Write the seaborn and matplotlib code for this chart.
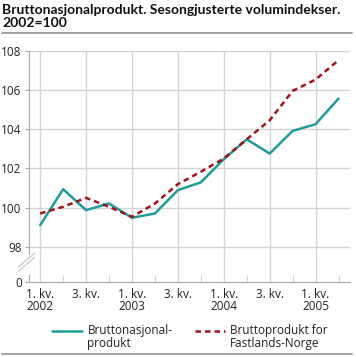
import matplotlib
matplotlib.use("Agg")
import matplotlib.pyplot as plt
import seaborn as sns
import pandas as pd
from matplotlib.lines import Line2D

# quarters 2002 Q1 .. 2005 Q2
quarters = list(range(14))
bnp = [99.1, 100.94, 99.87, 100.21, 99.48, 99.7, 100.89,
       101.29, 102.47, 103.49, 102.76, 103.92, 104.26, 105.57]
fastland = [99.7, 100.04, 100.5, 100.04, 99.53, 100.21, 101.2,
            101.83, 102.51, 103.49, 104.46, 105.96, 106.54, 107.53]
tick_pos = [0, 2, 4, 6, 8, 10, 12]
tick_labels = ["1. kv.\n2002", "3. kv.", "1. kv.\n2003", "3. kv.",
               "1. kv.\n2004", "3. kv.", "1. kv.\n2005"]
y_ticks = [98, 100, 102, 104, 106, 108]
label_bnp = "Bruttonasjonal-\nprodukt"
label_fast = "Bruttoprodukt for\nFastlands-Norge"

df = pd.DataFrame({"kvartal": quarters, "bnp": bnp, "fastland": fastland})

sns.set_theme(style="white")
plt.rcParams["font.family"] = ["Open Sans", "DejaVu Sans"]

teal = "#1f9c98"
red = "#a3111a"
grid_c = "#d4d4d4"
axis_c = "#a8a8a8"
text_c = "#222222"
fs = 8.5

fig = plt.figure(figsize=(3.56, 3.57), dpi=100)
ax = fig.add_axes([28.7 / 356, 1 - 282 / 357, (350 - 28.7) / 356, (282 - 51) / 357])

y_bottom = 96.2  # position of the "0" label below the break
ax.set_ylim(y_bottom, 108)
ax.set_xlim(-0.5, 13.5)

# grid
for v in y_ticks:
    ax.axhline(v, color=grid_c, lw=1, zorder=0)
for p in tick_pos:
    ax.axvline(p, color=grid_c, lw=1, zorder=0)

sns.lineplot(data=df, x="kvartal", y="bnp", ax=ax, color=teal, lw=1.8, label=label_bnp)
sns.lineplot(data=df, x="kvartal", y="fastland", ax=ax, color=red, lw=1.8,
             dashes=False, label=label_fast)
ax.lines[-1].set_linestyle((0, (2.2, 1.6)))

ax.set_xlabel("")
ax.set_ylabel("")

ax.set_yticks([y_bottom] + y_ticks)
ax.set_yticklabels(["0"] + [str(v) for v in y_ticks])
ax.set_xticks(tick_pos)
ax.set_xticklabels(tick_labels, linespacing=0.95)
ax.set_xticks([1, 3, 5, 7, 9, 11, 13], minor=True)
ax.tick_params(axis="y", which="major", length=3, width=0.8, color=axis_c,
               labelsize=fs, labelcolor=text_c, pad=2, left=True)
ax.tick_params(axis="x", which="major", length=0, labelsize=fs,
               labelcolor=text_c, pad=4)
ax.tick_params(axis="x", which="minor", direction="in", length=5,
               width=0.8, color=grid_c, bottom=True)

for s in ["top", "right"]:
    ax.spines[s].set_visible(False)
ax.spines["bottom"].set_color(axis_c)
ax.spines["bottom"].set_linewidth(0.8)
ax.spines["left"].set_color(axis_c)
ax.spines["left"].set_linewidth(0.8)
ax.spines["left"].set_bounds(97.65, 108)
# lower stub of the broken axis and break marks
ax.plot([-0.5, -0.5], [y_bottom, 96.55], color=axis_c, lw=0.8, clip_on=False)
for dy in (0, 0.22):
    ax.plot([-0.95, -0.25], [96.75 + dy, 97.45 + dy], color="#c8c8c8",
            lw=0.9, clip_on=False)

leg = ax.legend(loc="upper left", bbox_to_anchor=(52 / 356, 1 - 324 / 357),
                bbox_transform=fig.transFigure, ncol=2, frameon=False,
                fontsize=fs, handlelength=2.55, handletextpad=0.45,
                columnspacing=1.9, borderaxespad=0, borderpad=0)
for t in leg.get_texts():
    t.set_color(text_c)
    t.set_linespacing(1.05)

fig.text(2 / 356, 1 - 4 / 357,
         "Bruttonasjonalprodukt. Sesongjusterte volumindekser.\n2002=100",
         ha="left", va="top", fontsize=10, fontweight="bold", color="#111111",
         linespacing=1.1, family=["Lato", "DejaVu Sans"])
fig.add_artist(Line2D([2 / 356, 352 / 356], [1 - 33 / 357, 1 - 33 / 357],
                      transform=fig.transFigure, color="#9a9a9a", lw=1.3))
fig.add_artist(Line2D([2 / 356, 352 / 356], [1 - 354 / 357, 1 - 354 / 357],
                      transform=fig.transFigure, color="#9a9a9a", lw=1.3))

# put the legend keys level with the first text line
fig.canvas.draw()
r = fig.canvas.get_renderer()
for h, t in zip(leg.get_lines(), leg.get_texts()):
    tb = t.get_window_extent(r)
    hb = h.get_window_extent(r)
    line_h = tb.height / 2
    target = tb.y1 - line_h / 2
    shift_px = target - (hb.y0 + hb.y1) / 2
    h.set_ydata([y + shift_px * 72 / fig.dpi for y in h.get_ydata()])

fig.savefig("out.png", dpi=100)
